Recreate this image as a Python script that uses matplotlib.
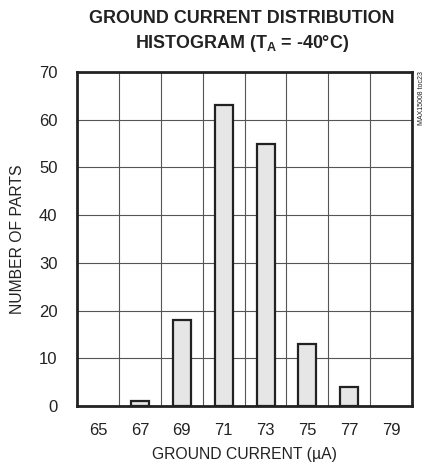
import numpy as np
import matplotlib.pyplot as plt

plt.rcParams['font.family'] = ['Liberation Sans', 'DejaVu Sans']
plt.rcParams['mathtext.fontset'] = 'custom'
plt.rcParams['mathtext.rm'] = 'Liberation Sans'
plt.rcParams['mathtext.bf'] = 'Liberation Sans:bold'

currents = ['65', '67', '69', '71', '73', '75', '77', '79']
parts = [0, 1, 18, 63, 55, 13, 4, 0]

fig = plt.figure(figsize=(4.28, 4.67), dpi=100)
ax = fig.add_axes([0.180, 0.1306, 0.783, 0.7154])

x = np.arange(len(currents))
vals = np.array(parts)
keep = vals > 0
ax.bar(x[keep], vals[keep], width=0.43, color='#e6e6e6', edgecolor='#222222',
       linewidth=1.6, zorder=3)

ax.set_xlim(-0.5, len(currents) - 0.5)
ax.set_ylim(0, 70)
ax.set_xticks(x)
ax.set_xticklabels(currents)
ax.set_xticks(np.arange(0.5, len(currents) - 1, 1), minor=True)
ax.set_yticks(np.arange(0, 71, 10))
ax.grid(True, which='minor', axis='x', color='#555555', linewidth=0.8, zorder=1)
ax.grid(True, which='major', axis='y', color='#555555', linewidth=0.8, zorder=1)
ax.tick_params(which='both', length=0, labelsize=12, colors='#222222')
ax.tick_params(axis='x', pad=12)
ax.tick_params(axis='y', pad=14)

for s in ax.spines.values():
    s.set_linewidth(2)
    s.set_color('#222222')

ax.set_xlabel('GROUND CURRENT (µA)', fontsize=11.3, color='#222222', labelpad=7)
ax.set_ylabel('NUMBER OF PARTS', fontsize=11.3, color='#222222', labelpad=10)

fig.text(0.565, 0.960, 'GROUND CURRENT DISTRIBUTION', ha='center', va='center',
         fontsize=12.9, fontweight='bold', color='#222222')
fig.text(0.565, 0.906, r'HISTOGRAM (T$_\mathbf{A}$ = -40°C)', ha='center', va='center',
         fontsize=12.9, fontweight='bold', color='#222222')
fig.text(0.985, 0.848, 'MAX15008 toc23', rotation=90, ha='center', va='top',
         fontsize=5, color='#222222')

fig.savefig('out.png', dpi=100)
